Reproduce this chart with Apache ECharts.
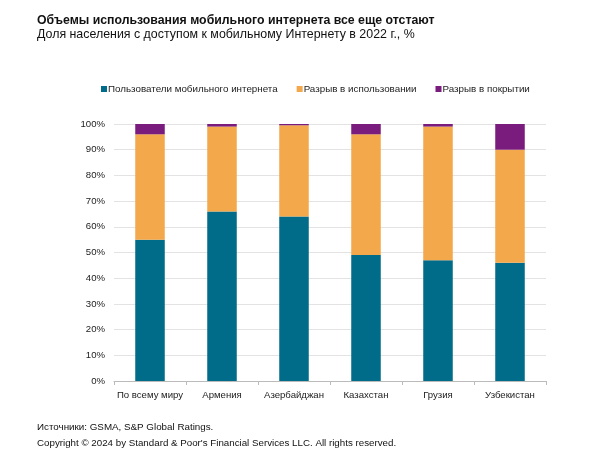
<!DOCTYPE html>
<html><head><meta charset="utf-8">
<script src="https://cdn.jsdelivr.net/npm/echarts@6/dist/echarts.min.js"></script>
<style>html,body{margin:0;padding:0;background:#fff}#c{width:600px;height:474px}</style>
</head><body><div id="c"></div>
<script>
const categories = ['По всему миру','Армения','Азербайджан','Казахстан','Грузия','Узбекистан'];
const seriesNames = ['Пользователи мобильного интернета','Разрыв в использовании','Разрыв в покрытии'];
const users = [55, 66, 64, 49, 47, 46];
const usageGap = [41, 33, 35.5, 47, 52, 44];
const coverageGap = [4, 1, 0.5, 4, 1, 10];
const yTicks = [0,10,20,30,40,50,60,70,80,90,100];
const colors = ['#006C8A','#F2A84B','#7A1B7E'];
const font = 'Liberation Sans, Arial, sans-serif';
const chart = echarts.init(document.getElementById('c'), null, {renderer:'canvas'});
const data = [users, usageGap, coverageGap];
chart.setOption({
  animation:false,
  textStyle:{fontFamily:font},
  title:[
    {text:'Объемы использования мобильного интернета все еще отстают', left:32, top:10, textStyle:{fontSize:12.3, fontWeight:'bold', color:'#111', fontFamily:font}},
    {text:'Доля населения с доступом к мобильному Интернету в 2022 г., %', left:32, top:24, textStyle:{fontSize:12.4, fontWeight:'normal', color:'#111', fontFamily:font}},
    {text:'Источники: GSMA, S&P Global Ratings.', left:32, top:417, textStyle:{fontSize:9.8, fontWeight:'normal', color:'#111', fontFamily:font}},
    {text:'Copyright © 2024 by Standard & Poor\'s Financial Services LLC. All rights reserved.', left:32, top:433, textStyle:{fontSize:9.75, fontWeight:'normal', color:'#111', fontFamily:font}}
  ],
  legend:{top:79, left:96, width:560, itemWidth:6, itemHeight:6, itemGap:19, icon:'rect',
    textStyle:{fontSize:9.8, color:'#222', fontFamily:font, padding:[0,0,0,-4]}, data:seriesNames},
  grid:{left:114, right:54, top:124, bottom:93},
  xAxis:{type:'category', data:categories,
    axisLine:{lineStyle:{color:'#bbb'}},
    axisTick:{show:true, lineStyle:{color:'#bbb'}, length:4},
    axisLabel:{fontSize:9.6, color:'#222', margin:9, interval:0, fontFamily:font}},
  yAxis:{type:'value', min:0, max:100, interval:10,
    axisLine:{show:false}, axisTick:{show:false},
    splitLine:{lineStyle:{color:'#e3e3e3'}},
    axisLabel:{fontSize:9.6, color:'#222', margin:9, fontFamily:font,
      formatter:v=> yTicks.includes(v) ? v+'%' : ''}},
  series: seriesNames.map((n,i)=>({name:n, type:'bar', stack:'a', data:data[i], barWidth:'41%',
    itemStyle:{color:colors[i]}}))
});
</script></body></html>
